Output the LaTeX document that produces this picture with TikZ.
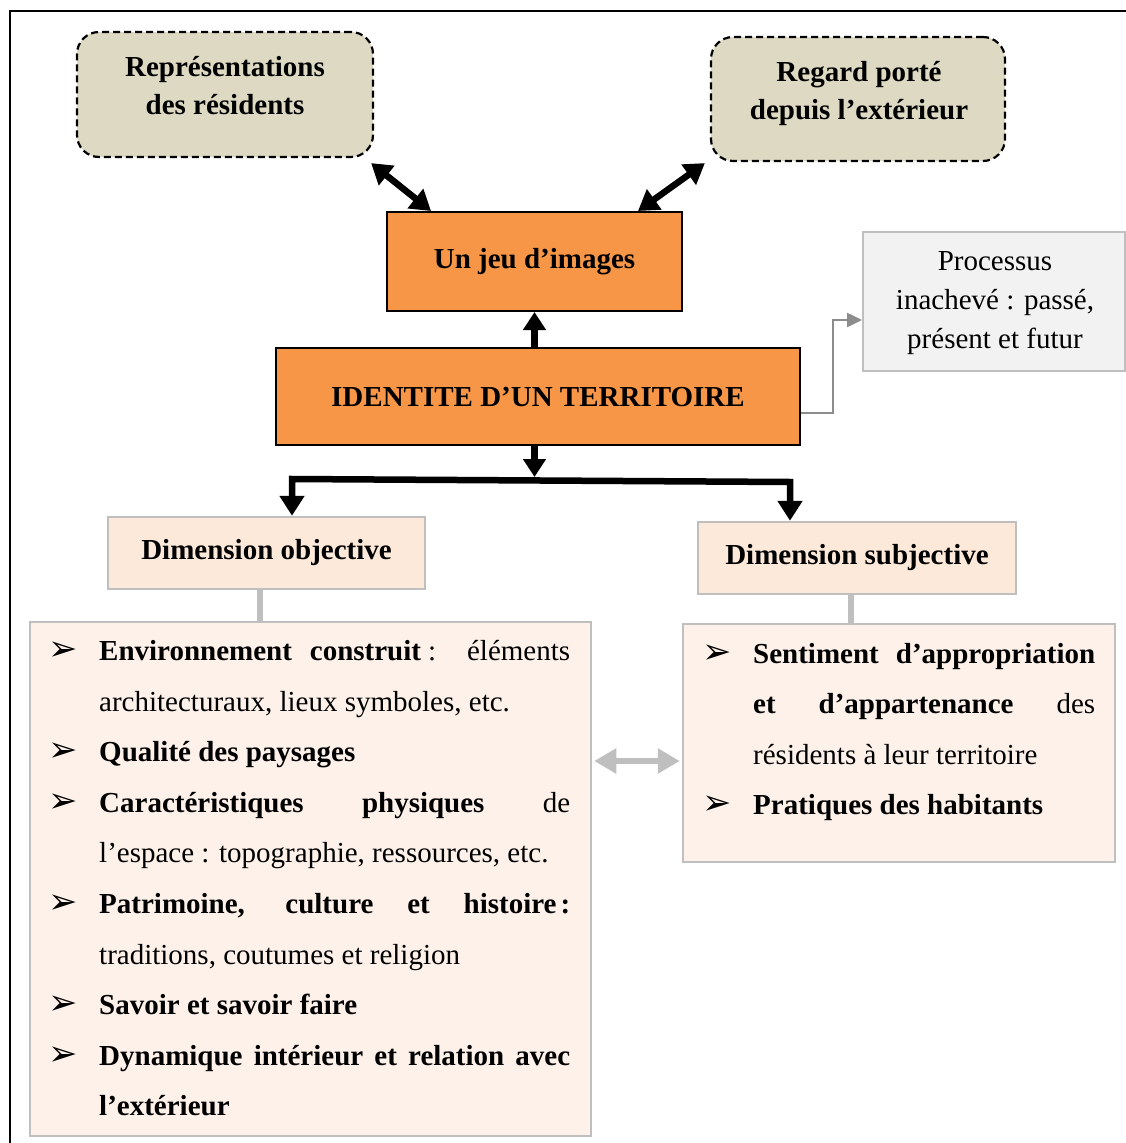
\documentclass[tikz,border=0pt]{standalone}
\usepackage{fontspec}
\setmainfont{Liberation Serif}
\newfontfamily\symfont{DejaVu Sans}
\usetikzlibrary{arrows.meta}
\hyphenpenalty=10000
\exhyphenpenalty=10000

\definecolor{tanfill}{HTML}{DDD9C3}
\definecolor{orangefill}{HTML}{F79646}
\definecolor{peachfill}{HTML}{FDE9D9}
\definecolor{listfill}{HTML}{FDF1E9}
\definecolor{lightline}{HTML}{BFBFBF}
\definecolor{procfill}{HTML}{F2F2F2}
\definecolor{elbowline}{HTML}{8C8C8C}

\tikzset{
  tanbox/.style={draw=black, fill=tanfill, line width=2.2pt,
    dash pattern=on 7pt off 4pt, rounded corners=22pt, inner sep=0pt},
  orangebox/.style={draw=black, fill=orangefill, line width=2pt, inner sep=0pt,
    font=\fontsize{29}{38}\selectfont\bfseries},
  dimbox/.style={draw=lightline, fill=peachfill, line width=2.5pt, inner sep=0pt,
    font=\fontsize{29}{38}\selectfont\bfseries},
  listbox/.style={draw=lightline, fill=listfill, line width=2.5pt, inner sep=0pt},
  procbox/.style={draw=lightline, fill=procfill, line width=2pt, inner sep=0pt},
  boxtext/.style={inner sep=0pt, align=center},
  bigarrow/.style={draw=black, line width=6.5pt,
    -{Triangle[length=18pt, width=22pt]}},
  bigdouble/.style={draw=black, line width=6.5pt,
    {Triangle[length=20pt, width=24pt]}-{Triangle[length=20pt, width=24pt]}},
  greydouble/.style={draw=lightline, line width=6.5pt,
    {Triangle[length=22pt, width=24pt]}-{Triangle[length=22pt, width=24pt]}},
  greylink/.style={draw=lightline, line width=6pt},
  elbow/.style={draw=elbowline, line width=2.5pt,
    -{Triangle[length=15pt, width=14pt]}},
  bul/.style={anchor=base west, inner sep=0pt,
    font=\symfont\fontsize{35}{35}\selectfont},
  itemtext/.style={anchor=base west, inner sep=0pt, align=justify,
    font=\fontsize{29}{50.6}\selectfont},
}

\begin{document}
\begin{tikzpicture}[x=1pt, y=-1pt, font=\fontsize{29}{38}\selectfont]
\useasboundingbox (0,0) rectangle (1126,1143);

% outer frame
\draw[line width=2pt] (10,1160) -- (10,11) -- (1140,11);

% upper boxes
\node[tanbox, minimum width=296pt, minimum height=125pt] (rep) at (225,94.5) {};
\node[boxtext, font=\fontsize{29}{38}\selectfont\bfseries] (reptext) at (225,86)
  {Représentations\\des résidents};
\node[tanbox, minimum width=294pt, minimum height=124pt] (reg) at (858,99) {};
\node[boxtext, font=\fontsize{29}{38}\selectfont\bfseries] (regtext) at (859,94)
  {Regard porté\\depuis l’extérieur};

\node[orangebox, minimum width=295pt, minimum height=99pt] (jeu) at (534.5,261.5)
  {Un jeu d’images};
\node[orangebox, minimum width=524pt, minimum height=97pt] (id) at (538,396.5)
  {IDENTITE D’UN TERRITOIRE};

\node[procbox, minimum width=262pt, minimum height=139pt] (proc) at (994,301) {};
\node[boxtext, font=\fontsize{29}{39}\selectfont] (proctext) at (995,303.5)
  {Processus\\inachevé : passé,\\présent et futur};

% dimensions
\node[dimbox, minimum width=317pt, minimum height=72pt] (obj) at (266.5,553)
  {Dimension objective};
\node[dimbox, minimum width=318pt, minimum height=72pt] (subj) at (857,558)
  {Dimension subjective};

\node[listbox, minimum width=561pt, minimum height=514pt] (objlist) at (310.5,879) {};
\node[listbox, minimum width=432pt, minimum height=238pt] (subjlist) at (899,743) {};

% connectors between the upper boxes
\draw[bigdouble] ([xshift=-3pt, yshift=-5pt]rep.south east)
  -- ([xshift=45pt]jeu.north west);
\draw[bigdouble] ([xshift=-5pt, yshift=-1pt]reg.south west)
  -- ([xshift=-45pt]jeu.north east);
\draw[bigarrow] (id.north -| jeu.south) -- (jeu.south);

% split towards the two dimensions
\coordinate (split) at (534.5,480);
\coordinate (hl) at (292,479);
\coordinate (hr) at (790,482);
\draw[bigarrow, shorten >=3pt] (id.south -| split) -- (split);
\draw[bigdouble, line join=miter] (hl |- obj.north) -- (hl) -- (hr) -- (hr |- subj.north);

% process arrow
\coordinate (elb) at (833,413);
\coordinate (elbtop) at (833,320);
\draw[elbow] (id.east |- elb) -- (elb) -- (elbtop) -- (proc.west |- elbtop);

% links to the lists
\coordinate (lo) at (260,0);
\coordinate (ls) at (851,0);
\draw[greylink] (lo |- obj.south) -- (lo |- objlist.north);
\draw[greylink] (ls |- subj.south) -- (ls |- subjlist.north);
\coordinate (mid) at (0,761);
\draw[greydouble] ([xshift=2pt]objlist.east |- mid) -- ([xshift=-2pt]subjlist.west |- mid);

% objective list
\node[bul] (b1) at (48,660.5) {➢};
\node[itemtext, text width=471pt] (i1) at (99,660.5)
  {\textbf{Environnement construit}\kern7pt: éléments\linebreak
   architecturaux, lieux symboles, etc.};
\node[bul] (b2) at (48,761.7) {➢};
\node[itemtext, text width=471pt] (i2) at (99,761.7)
  {\textbf{Qualité des paysages}};
\node[bul] (b3) at (48,812.3) {➢};
\node[itemtext, text width=471pt] (i3) at (99,812.3)
  {\textbf{Caractéristiques physiques} de\linebreak
   l’espace : topographie, ressources, etc.};
\node[bul] (b4) at (48,913.5) {➢};
\node[itemtext, text width=471pt] (i4) at (99,913.5)
  {\textbf{Patrimoine, culture et histoire\kern4pt:}\linebreak
   traditions, coutumes et religion};
\node[bul] (b5) at (48,1014.7) {➢};
\node[itemtext, text width=471pt] (i5) at (99,1014.7)
  {\textbf{Savoir et savoir faire}};
\node[bul] (b6) at (48,1065.3) {➢};
\node[itemtext, text width=471pt] (i6) at (99,1065.3)
  {\textbf{Dynamique intérieur et relation avec\linebreak l’extérieur}};

% subjective list
\node[bul] (s1) at (702,663) {➢};
\node[itemtext, text width=342pt] (j1) at (753,663)
  {\textbf{Sentiment d’appropriation\linebreak et d’appartenance} des\linebreak
   résidents à leur territoire};
\node[bul] (s2) at (702,814.8) {➢};
\node[itemtext, text width=342pt] (j2) at (753,814.8)
  {\textbf{Pratiques des habitants}};
\end{tikzpicture}
\end{document}
